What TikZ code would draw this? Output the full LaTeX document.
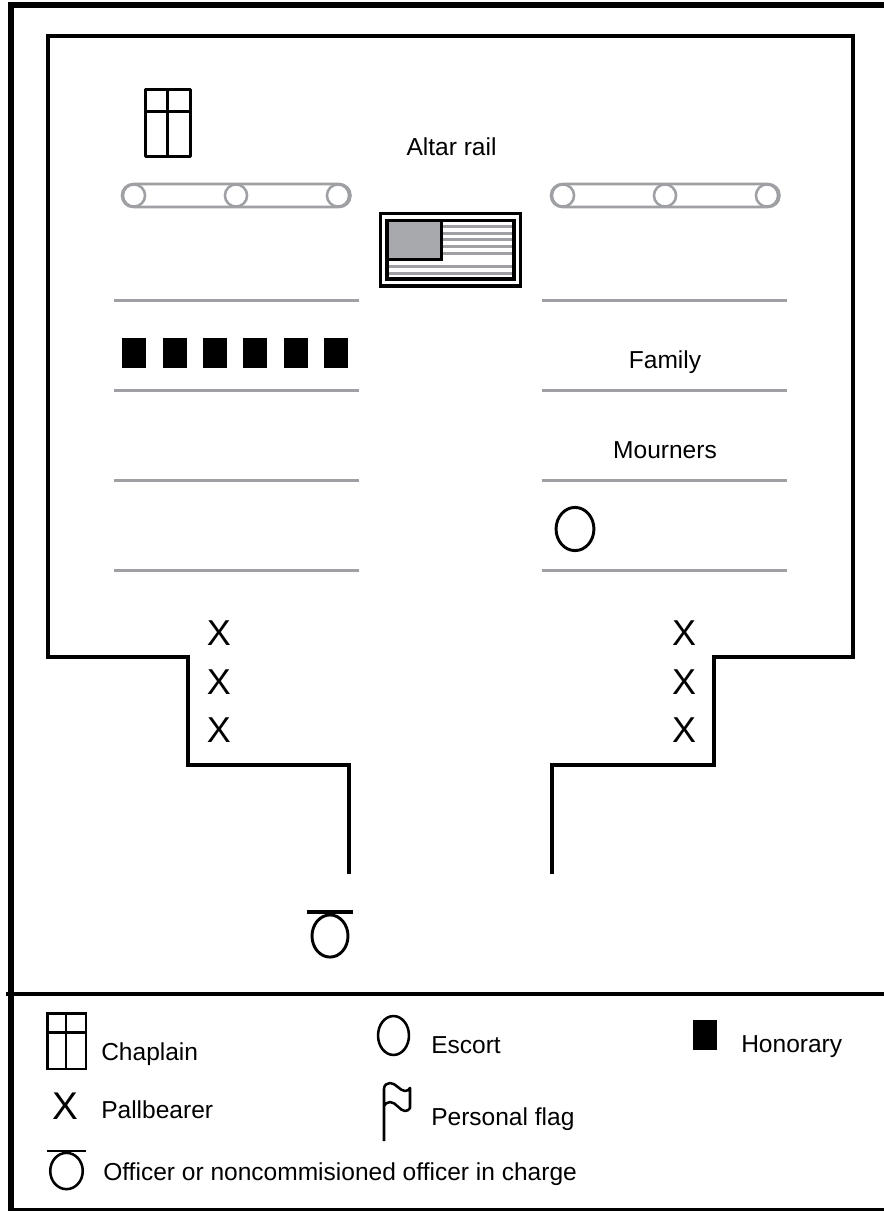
\documentclass[tikz,border=0pt]{standalone}
\usepackage{fontspec}
\setmainfont{Liberation Sans}
\tikzset{
  x=0.75pt,y=-0.75pt,
  wall/.style={draw=black,line width=2.4pt,line cap=butt,line join=miter},
  railbar/.style={draw=railgrey,line width=1.9pt},
  pew/.style={draw=railgrey,line width=2.2pt},
  icon/.style={draw=black,line width=2.2pt},
  legicon/.style={draw=black,line width=1.9pt},
  hon/.style={fill=black,draw=none},
  lab/.style={font=\fontsize{18.4pt}{20pt}\selectfont,inner sep=0pt,text=black},
  big/.style={font=\fontsize{27pt}{29pt}\selectfont,inner sep=0pt,text=black,anchor=center},
}
\definecolor{railgrey}{RGB}{158,160,163}
\definecolor{canton}{RGB}{167,169,172}
\begin{document}
\begin{tikzpicture}
\useasboundingbox (0,0) rectangle (884,1211);
\fill[white] (0,0) rectangle (884,1211);
% outer frame
\draw[line width=4.4pt] (11,1211) -- (11,5) -- (884,5);
\draw[line width=2.2pt] (11,1209.5) -- (884,1209.5);
\draw[line width=2.4pt] (6,994) -- (884,994);
% room
\draw[wall] (349,874) -- (349,765) -- (188,765) -- (188,657) -- (48,657) -- (48,36) -- (853,36) -- (853,657) -- (714,657) -- (714,765) -- (552,765) -- (552,874);
% chaplain
\draw[icon,line join=round] (145.5,89.5) rectangle (190.5,156.5);
\draw[icon] (167.5,89.5) -- (167.5,156.5) (145.5,111.5) -- (190.5,111.5);
% rails
\foreach \ox in {122,551}{
  \draw[railbar,rounded corners=8.5pt] (\ox,184) rectangle ++(228.5,23);
  \foreach \d in {12,114,216}
    \draw[railbar,fill=white] (\ox+\d,195.5) circle[radius=8.3pt];
}
% flag
\draw[icon,line width=2.3pt] (380.5,213.5) rectangle (520.5,286);
\foreach \y in {226.5,233.5,239.5,246.5,253.5,266.5,273.5}
  \draw[draw=railgrey,line width=2.2pt] (387,\y) -- (514,\y);
\draw[icon,line width=2.3pt] (387,220.5) rectangle (514,279);
\draw[icon,line width=2.3pt,fill=canton] (387,220.5) rectangle (441.5,259.5);
% honorary row
\foreach \ox in {122,162.5,203,243,284,324}
  \fill[hon] (\ox,338) rectangle ++(24,30);
% pews
\foreach \y in {300.5,390.5,480.5,570.5}{
  \draw[pew] (114,\y) -- (359,\y);
  \draw[pew] (542,\y) -- (787,\y);
}
% labels
\node[lab,anchor=base] (altar) at (451.5,155.5) {Altar rail};
\node[lab,anchor=base] (family) at (665,368) {Family};
\node[lab,anchor=base] (mourners) at (665,458) {Mourners};
% escort
\draw[icon] (575,529) ellipse[x radius=14.2pt,y radius=16.2pt];
% pallbearers
\foreach \y/\n in {633/a,682/b,730/c}{
  \node[big] (xl\n) at (219,\y) {X};
  \node[big] (xr\n) at (684,\y) {X};
}
% officer
\draw[icon,line width=2.4pt] (307,912) -- (353,912);
\draw[icon] (330,936) ellipse[x radius=13.5pt,y radius=15.8pt];
% legend
\draw[legicon] (47.5,1013.5) rectangle (86,1069);
\draw[legicon] (66,1013.5) -- (66,1069) (47.5,1032.5) -- (86,1032.5);
\node[lab,anchor=base west] (chap) at (101,1060) {Chaplain};
\draw[legicon] (393.5,1035.5) ellipse[x radius=11.6pt,y radius=14.6pt];
\node[lab,anchor=base west] (esc) at (431,1053) {Escort};
\fill[hon] (693,1020) rectangle (717,1050);
\node[lab,anchor=base west] (honl) at (741,1052) {Honorary};
\node[big,font=\fontsize{29pt}{31pt}\selectfont] (xleg) at (65,1106) {X};
\node[lab,anchor=base west] (pall) at (101,1118) {Pallbearer};
\draw[legicon,line join=round] (384,1141) -- (384,1089) .. controls (384,1085) and (387,1083) .. (390,1083) .. controls (396,1083) and (400,1091) .. (405,1091) .. controls (407,1091) and (409,1090) .. (410,1088) -- (410,1108) .. controls (409,1110) and (407,1111) .. (405,1111) .. controls (400,1111) and (396,1102) .. (390,1102) .. controls (387,1102) and (385,1104) .. (384,1106);
\node[lab,anchor=base west] (pflag) at (431,1125) {Personal flag};
\draw[legicon,line width=2.2pt] (47,1151) -- (86,1151);
\draw[legicon] (66.5,1171) ellipse[x radius=12.2pt,y radius=13.6pt];
\node[lab,anchor=base west] (off) at (103,1180) {Officer or noncommisioned officer in charge};
\end{tikzpicture}
\end{document}
